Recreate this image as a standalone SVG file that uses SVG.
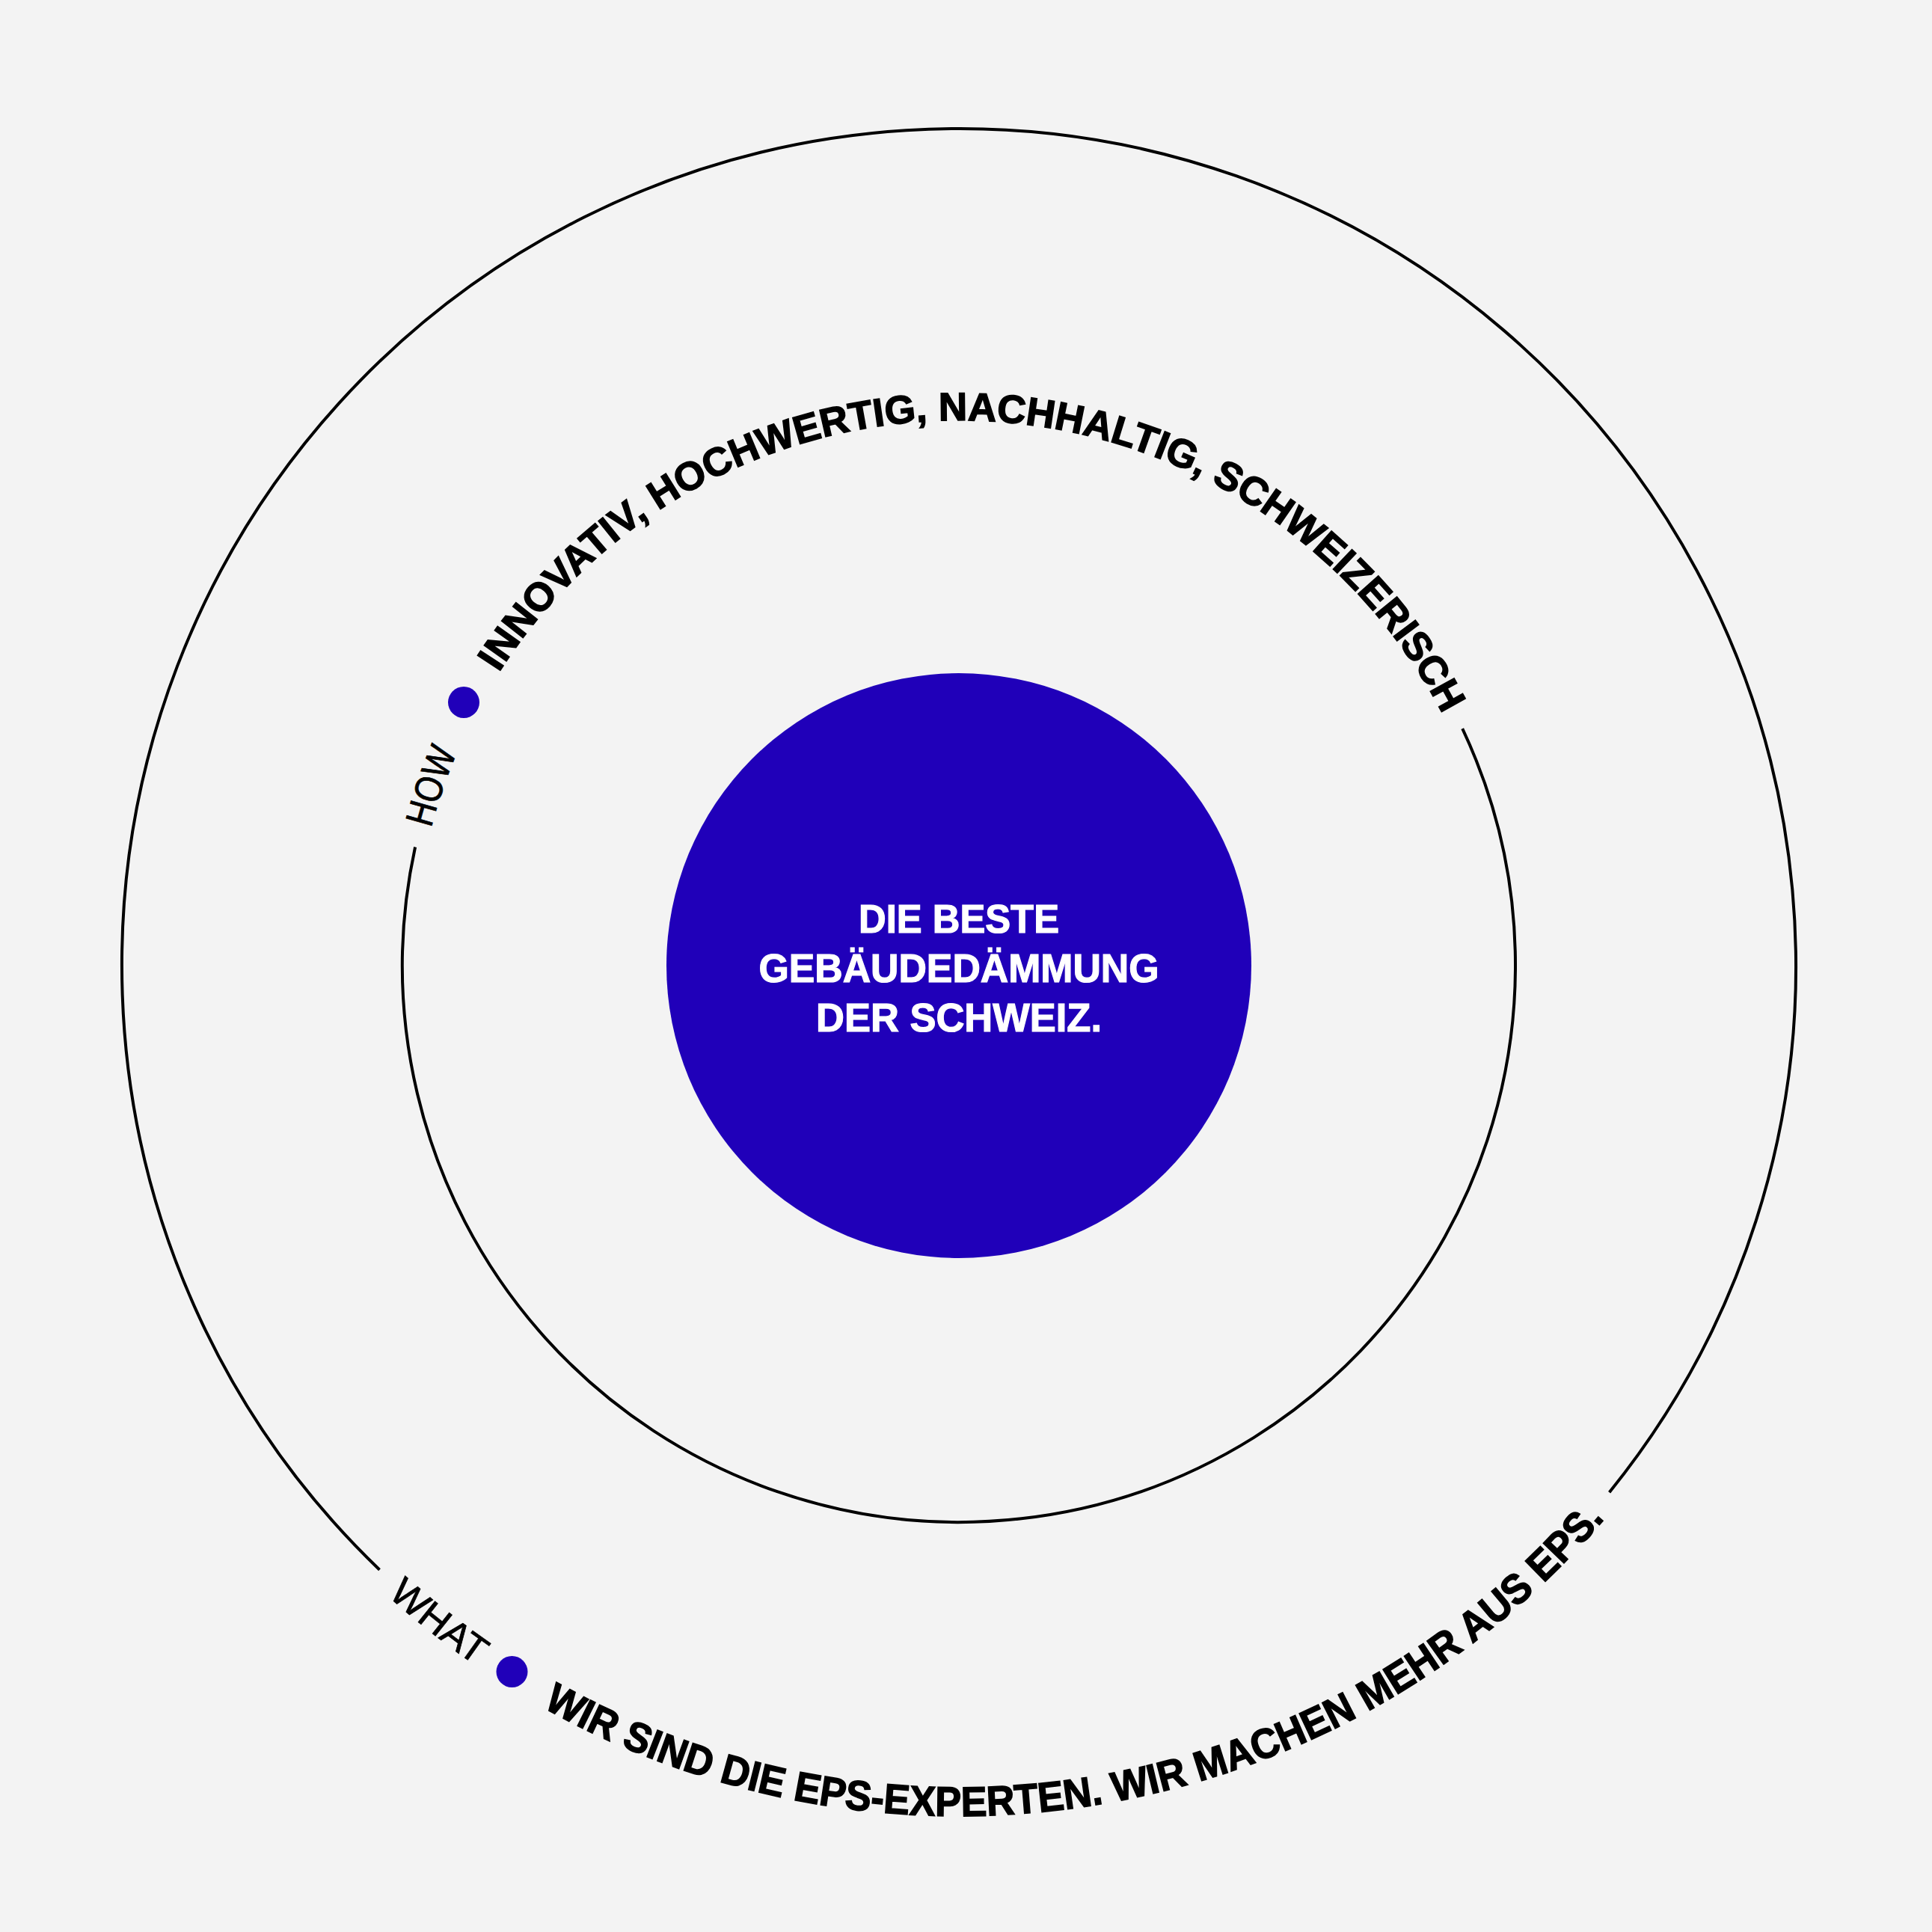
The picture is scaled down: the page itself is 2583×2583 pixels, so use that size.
<svg xmlns="http://www.w3.org/2000/svg" xmlns:xlink="http://www.w3.org/1999/xlink" width="2583" height="2583" viewBox="0 0 2583 2583">
<style>
.ring{fill:none;stroke:#000;stroke-width:4}
.dot{fill:#2000b9}
.bold{font-family:"Liberation Sans",Arial,sans-serif;font-weight:bold;fill:#000;stroke:#000;stroke-width:1.5}
.light{font-family:"Liberation Sans",Arial,sans-serif;font-weight:normal;fill:#000;stroke:#000;stroke-width:0.8}
.core{font-family:"Liberation Sans",Arial,sans-serif;font-weight:bold;fill:#fff;stroke:#fff;stroke-width:1.2;font-size:54px;text-anchor:middle}
</style>
<defs>
<path id="pTop" d="M667.2,899.3 A729,729 0 0 1 1928.6,954.4"/>
<path id="pHow" d="M576.5,1107.2 A729,729 0 0 1 611.0,1006.2"/>
<path id="pBottom" d="M725.6,2282.6 A1137,1137 0 0 0 2145.3,2030.9"/>
<path id="pWhat" d="M518.3,2133.3 A1137,1137 0 0 0 636.4,2226.9"/>
</defs>
<rect width="2583" height="2583" fill="#f3f3f3"/>
<g id="connectors">
<path id="outer-ring" class="ring" d="M507.5,2098.7 A1119,1119 0 1 1 2151.6,1995.2"/>
<path id="middle-ring" class="ring" d="M1955.2,974.2 A744,744 0 1 1 555.1,1132.5"/>
</g>
<g id="core">
<circle cx="1282" cy="1291" r="391" fill="#2000b9"/>
<text class="core" x="1282" y="1247" textLength="268" lengthAdjust="spacingAndGlyphs">DIE BESTE</text>
<text class="core" x="1282" y="1313" textLength="535" lengthAdjust="spacingAndGlyphs">GEBÄUDEDÄMMUNG</text>
<text class="core" x="1282" y="1379" textLength="382" lengthAdjust="spacingAndGlyphs">DER SCHWEIZ.</text>
</g>
<g id="how">
<circle class="dot" cx="620" cy="939" r="21"/>
<text class="light" font-size="52"><textPath xlink:href="#pHow" href="#pHow" textLength="107" lengthAdjust="spacingAndGlyphs">HOW</textPath></text>
<text class="bold" font-size="53"><textPath xlink:href="#pTop" href="#pTop" textLength="1527" lengthAdjust="spacingAndGlyphs">INNOVATIV, HOCHWERTIG, NACHHALTIG, SCHWEIZERISCH</textPath></text>
</g>
<g id="what">
<circle class="dot" cx="684.5" cy="2235" r="21"/>
<text class="light" font-size="52"><textPath xlink:href="#pWhat" href="#pWhat" textLength="151" lengthAdjust="spacingAndGlyphs">WHAT</textPath></text>
<text class="bold" font-size="56"><textPath xlink:href="#pBottom" href="#pBottom" textLength="1562" lengthAdjust="spacingAndGlyphs">WIR SIND DIE EPS-EXPERTEN. WIR MACHEN MEHR AUS EPS.</textPath></text>
</g>
</svg>
